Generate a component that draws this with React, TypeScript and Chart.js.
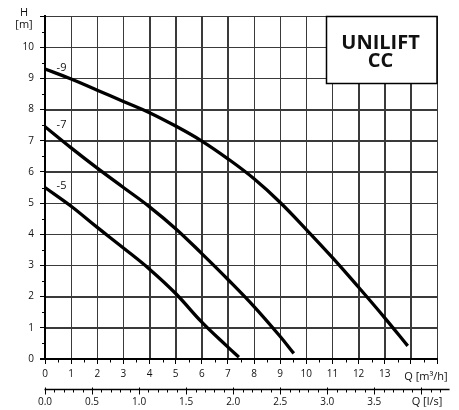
import React, { useEffect, useRef } from 'react';
import { Chart, registerables } from 'chart.js';

Chart.register(...registerables);

// Flow axis (m³/h) tick labels, head axis (m) tick labels, flow axis (l/s) labels
const flowTicks = [0, 1, 2, 3, 4, 5, 6, 7, 8, 9, 10, 11, 12, 13];
const headTicks = [0, 1, 2, 3, 4, 5, 6, 7, 8, 9, 10];
const litreTicks = [0, 0.5, 1.0, 1.5, 2.0, 2.5, 3.0, 3.5];

// Pump curves: Q [m³/h] and H [m]
const q9 = [0, 1, 2, 3, 4, 5, 6, 7, 8, 9, 10, 11, 12, 13, 13.88];
const h9 = [9.3, 8.98, 8.62, 8.26, 7.9, 7.47, 6.99, 6.42, 5.78, 5.02, 4.15, 3.25, 2.3, 1.32, 0.42];
const q7 = [0, 1, 2, 3, 4, 5, 6, 7, 8, 9, 9.52];
const h7 = [7.45, 6.77, 6.12, 5.5, 4.88, 4.18, 3.38, 2.55, 1.68, 0.72, 0.18];
const q5 = [0, 1, 2, 3, 4, 5, 6, 7, 7.42];
const h5 = [5.5, 4.9, 4.22, 3.56, 2.88, 2.1, 1.18, 0.38, 0.06];
const curveNames = ['-9', '-7', '-5'];

const titleLines = ['UNILIFT', 'CC'];

const FONT = '"Open Sans", "DejaVu Sans", sans-serif';
const M3H_PER_LS = 3.6;

export default function App() {
  const ref = useRef<HTMLCanvasElement>(null);

  useEffect(() => {
    const canvas = ref.current;
    if (!canvas) return;
    const pts = (q: number[], h: number[]) => q.map((v, i) => ({ x: v, y: h[i] }));
    const series = [pts(q9, h9), pts(q7, h7), pts(q5, h5)];

    const gridPlugin = {
      id: 'gridLines',
      beforeDatasetsDraw(chart: any) {
        const { ctx, chartArea: ca } = chart;
        const xs = chart.scales.x;
        const ys = chart.scales.y;
        ctx.save();
        ctx.strokeStyle = '#3a3a3a';
        ctx.lineWidth = 1;
        xs.ticks.forEach((t: any) => {
          const px = Math.round(xs.getPixelForValue(t.value)) + 0.5;
          ctx.beginPath();
          ctx.moveTo(px, ca.top);
          ctx.lineTo(px, ca.bottom);
          ctx.stroke();
        });
        ys.ticks.forEach((t: any) => {
          const py = Math.round(ys.getPixelForValue(t.value)) + 0.5;
          ctx.beginPath();
          ctx.moveTo(ca.left, py);
          ctx.lineTo(ca.right, py);
          ctx.stroke();
        });
        // axis lines
        ctx.strokeStyle = '#000';
        ctx.lineWidth = 2;
        ctx.beginPath();
        ctx.moveTo(ca.left, ca.top);
        ctx.lineTo(ca.left, ca.bottom + 1);
        ctx.moveTo(ca.left - 5, ca.bottom);
        ctx.lineTo(ca.right + 1, ca.bottom);
        ctx.stroke();
        ctx.restore();
      },
    };

    const overlay = {
      id: 'overlay',
      afterDraw(chart: any) {
        const { ctx, chartArea: ca } = chart;
        const xs = chart.scales.x;
        const ys = chart.scales.y;
        ctx.save();
        ctx.strokeStyle = '#000';
        ctx.fillStyle = '#111';
        ctx.lineWidth = 1;

        // minor ticks on m³/h axis
        for (let v = 0.5; v < 15; v += 1) {
          const px = Math.round(xs.getPixelForValue(v)) + 0.5;
          ctx.beginPath();
          ctx.moveTo(px, ca.bottom);
          ctx.lineTo(px, ca.bottom + 3.5);
          ctx.stroke();
        }
        // minor ticks on H axis
        for (let v = 0.5; v < 11; v += 1) {
          const py = Math.round(ys.getPixelForValue(v)) + 0.5;
          ctx.beginPath();
          ctx.moveTo(ca.left - 3, py);
          ctx.lineTo(ca.left, py);
          ctx.stroke();
        }

        // secondary l/s axis
        const ay = 389.5;
        ctx.lineWidth = 1.3;
        ctx.beginPath();
        ctx.moveTo(xs.getPixelForValue(0) - 0.5, ay);
        ctx.lineTo(xs.getPixelForValue(4.3 * M3H_PER_LS), ay);
        ctx.stroke();
        ctx.lineWidth = 1;
        for (let i = 0; i <= 42; i++) {
          const ls = i / 10;
          const px = Math.round(xs.getPixelForValue(ls * M3H_PER_LS)) + 0.5;
          const major = i % 5 === 0;
          ctx.beginPath();
          ctx.moveTo(px, major ? ay - 2 : ay);
          ctx.lineTo(px, major ? ay + 5 : ay + 3);
          ctx.stroke();
        }
        ctx.font = `10px ${FONT}`;
        ctx.textAlign = 'center';
        ctx.textBaseline = 'middle';
        litreTicks.forEach((ls) => {
          ctx.fillText(ls.toFixed(1), xs.getPixelForValue(ls * M3H_PER_LS), 402);
        });

        // axis titles
        ctx.font = `11px ${FONT}`;
        ctx.fillText('Q [m³/h]', 426, 376.5);
        ctx.fillText('Q [l/s]', 427, 402);
        ctx.fillText('H', 24, 13);
        ctx.fillText('[m]', 24, 25);

        // curve labels
        ctx.font = `11px ${FONT}`;
        series.forEach((s, i) => {
          const x = xs.getPixelForValue(s[0].x) + 16.5;
          const y = ys.getPixelForValue(s[0].y) - 1.5;
          ctx.fillText(curveNames[i], x, y);
        });

        // title box
        const bx = ca.right - 111;
        const by = ca.top;
        const bw = 111;
        const bh = 67;
        ctx.fillStyle = '#fff';
        ctx.fillRect(bx, by, bw, bh);
        ctx.lineWidth = 1.5;
        ctx.strokeStyle = '#000';
        ctx.strokeRect(bx + 0.5, by + 0.5, bw - 0.5, bh);
        ctx.fillStyle = '#111';
        ctx.font = `bold 20px ${FONT}`;
        ctx.fillText(titleLines[0], bx + bw / 2 - 1, by + 27);
        ctx.fillText(titleLines[1], bx + bw / 2 - 1, by + 45);
        ctx.restore();
      },
    };

    const chart = new Chart(canvas, {
      type: 'line',
      data: {
        datasets: series.map((d, i) => ({
          label: curveNames[i],
          data: d,
          borderColor: '#000',
          borderWidth: 3.3,
          pointRadius: 0,
          fill: false,
          tension: 0.4,
          borderCapStyle: 'butt' as const,
        })),
      },
      options: {
        responsive: false,
        animation: false,
        devicePixelRatio: 1,
        layout: { padding: { top: 16, right: 22, left: 0, bottom: 0 } },
        plugins: { legend: { display: false }, tooltip: { enabled: false } },
        scales: {
          x: {
            type: 'linear',
            min: 0,
            max: 15,
            afterFit: (s: any) => {
              s.height = 51;
            },
            ticks: {
              stepSize: 1,
              autoSkip: false,
              maxRotation: 0,
              padding: 4,
              color: '#111',
              font: { family: FONT, size: 10 },
              callback: (v: any) => (flowTicks.includes(v) ? String(v) : ''),
            },
            grid: { color: '#3a3a3a', lineWidth: 1, tickLength: 5, tickColor: '#000', tickWidth: 1 },
            border: { color: '#000', width: 2 },
          },
          y: {
            type: 'linear',
            min: 0,
            max: 11,
            afterFit: (s: any) => {
              s.width = 45;
            },
            ticks: {
              stepSize: 1,
              autoSkip: false,
              padding: 6,
              color: '#111',
              font: { family: FONT, size: 10 },
              callback: (v: any) => (headTicks.includes(v) ? String(v) : ''),
            },
            grid: { color: '#3a3a3a', lineWidth: 1, tickLength: 5, tickColor: '#000', tickWidth: 1 },
            border: { color: '#000', width: 2 },
          },
        },
      },
      plugins: [gridPlugin, overlay],
    });
    return () => chart.destroy();
  }, []);

  return (
    <canvas
      ref={ref}
      width={459}
      height={410}
      style={{ position: 'absolute', left: 0, top: 0, width: 459, height: 410, background: '#fff' }}
    />
  );
}
